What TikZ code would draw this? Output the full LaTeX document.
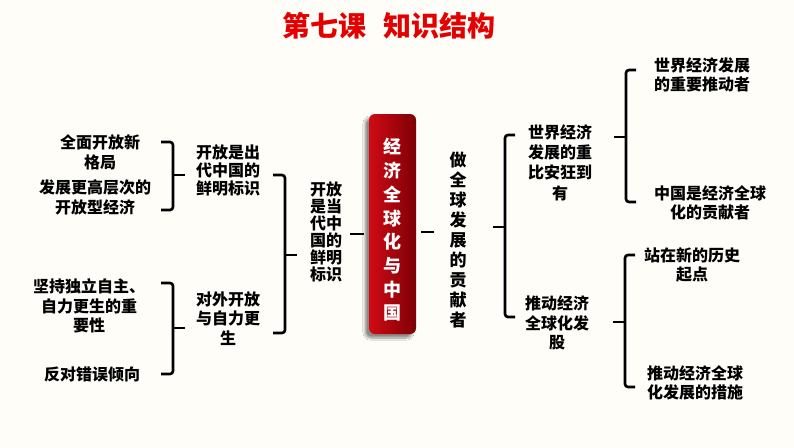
\documentclass[tikz,border=0pt]{standalone}
\usepackage{fontspec}
\setmainfont{Noto Sans CJK SC}
\usetikzlibrary{shadows.blur}
\definecolor{bgc}{RGB}{254,253,247}
\definecolor{titlered}{RGB}{228,0,0}
\definecolor{boxlight}{RGB}{208,10,20}
\definecolor{boxdark}{RGB}{125,0,5}
\newcommand\mybraceR[4]{% x, top, bottom, mid : opens left, tip right
  \draw[bracestyle] ({#1-12},#2) -- (#1,#2) -- (#1,#3) -- ({#1-12},#3);
  \draw[tipstyle] (#1,#4) -- ({#1+12},#4);}
\newcommand\mybraceL[4]{% x, top, bottom, mid : opens right, tip left
  \draw[bracestyle] ({#1+10},#2) -- (#1,#2) -- (#1,#3) -- ({#1+10},#3);
  \draw[tipstyle] (#1,#4) -- ({#1-12},#4);}
\begin{document}
\begin{tikzpicture}[x=1pt,y=-1pt,
  txt/.style={font=\bfseries\fontsize{16}{19.5}\selectfont, align=center, inner sep=0pt, text=black},
  bracestyle/.style={line width=2.6pt, rounded corners=3pt, draw=black},
  tipstyle/.style={line width=2.6pt, draw=black},
  stub/.style={line width=2.6pt, draw=black}]
\fill[bgc] (0,0) rectangle (794,447);
\useasboundingbox (0,0) rectangle (794,447);
% title
\node[font=\bfseries\fontsize{28}{30}\selectfont, text=titlered, inner sep=0pt] (title) at (389,26) {第七课\hspace{0.6em}知识结构};
% core box
\node[minimum width=47pt, minimum height=220pt, rounded corners=6pt, inner sep=0pt,
      left color=boxlight, right color=boxdark,
      blur shadow={shadow xshift=-4pt, shadow yshift=-4pt, shadow opacity=45, shadow blur steps=8}] (core) at (392.5,224) {};
\node[font=\bfseries\fontsize{18}{23.7}\selectfont, text=white, align=center, inner sep=0pt] (coretext) at (392.5,230) {经\\济\\全\\球\\化\\与\\中\\国};
% stubs
\coordinate (lsA) at (350,234); \coordinate (lsB) at (364,234);
\coordinate (rsA) at (421,232); \coordinate (rsB) at (434,232);
\draw[stub] (lsA) -- (lsB);
\draw[stub] (rsA) -- (rsB);
% left texts
\node[txt] (t1) at (100,152.5) {全面开放新\\格局};
\node[txt] (t2) at (95,197.5) {发展更高层次的\\开放型经济};
\node[txt, font=\bfseries\fontsize{16}{18}\selectfont] (t3) at (228,170) {开放是出\\代中国的\\鲜明标识};
\node[txt] (t4) at (89,306) {坚持独立自主、\\自力更生的重\\要性};
\node[txt] (t5) at (228,318.5) {对外开放\\与自力更\\生};
\node[txt] (t6) at (92,374) {反对错误倾向};
\node[txt, font=\bfseries\fontsize{16}{17}\selectfont] (t7) at (326,231.5) {开放\\是当\\代中\\国的\\鲜明\\标识};
\node[txt, font=\bfseries\fontsize{17}{20}\selectfont] (t8) at (458,240) {做\\全\\球\\发\\展\\的\\贡\\献\\者};
% right texts
\node[txt, font=\bfseries\fontsize{16}{20.3}\selectfont] (r1) at (560,162.5) {世界经济\\发展的重\\比安狂到\\有};
\node[txt] (r2) at (702,75) {世界经济发展\\的重要推动者};
\node[txt] (r3) at (710,203) {中国是经济全球\\化的贡献者};
\node[txt] (r4) at (557,323) {推动经济\\全球化发\\股};
\node[txt] (r5) at (692,265) {站在新的历史\\起点};
\node[txt] (r6) at (695,383) {推动经济全球\\化发展的措施};
% braces
\mybraceR{285}{175}{333}{255}
\mybraceR{173}{142}{210}{175}
\mybraceR{173}{283}{374}{328}
\mybraceL{505}{135}{317}{227}
\mybraceL{626}{70}{202}{137}
\mybraceL{625}{255}{387}{322}
\end{tikzpicture}
\end{document}
